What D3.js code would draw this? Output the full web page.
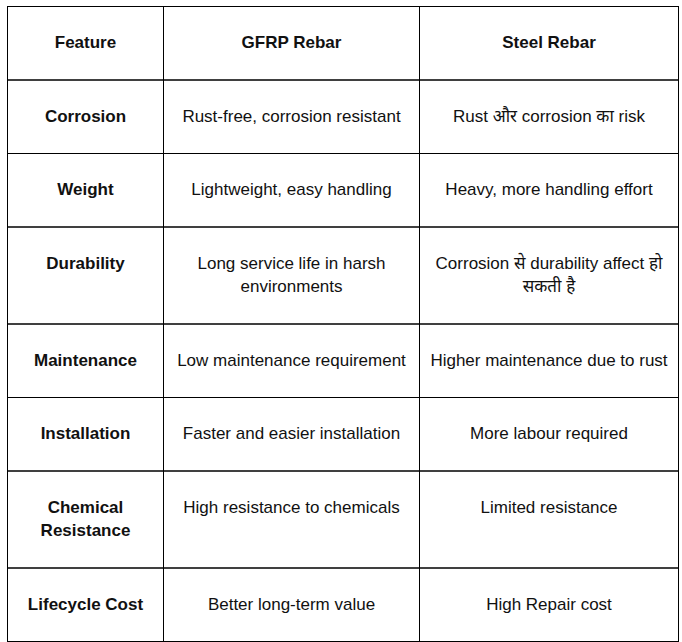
<!DOCTYPE html>
<html><head><meta charset="utf-8">
<script src="https://cdn.jsdelivr.net/npm/d3@7"></script>
<style>body{margin:0;background:#fff}</style></head>
<body><svg id="c" width="682" height="642"></svg>
<script>
const headers = ["Feature", "GFRP Rebar", "Steel Rebar"];
const features = [["Corrosion"],["Weight"],["Durability"],["Maintenance"],["Installation"],["Chemical","Resistance"],["Lifecycle Cost"]];
const gfrp = [["Rust-free, corrosion resistant"],["Lightweight, easy handling"],["Long service life in harsh","environments"],["Low maintenance requirement"],["Faster and easier installation"],["High resistance to chemicals"],["Better long-term value"]];
const steel = [["Rust और corrosion का risk"],["Heavy, more handling effort"],["Corrosion से durability affect हो","सकती है"],["Higher maintenance due to rust"],["More labour required"],["Limited resistance"],["High Repair cost"]];

const svg = d3.select("#c");
const colX = [7.5, 163.5, 419.5, 678.5];
const lh = 23;
const rows = [{cells:[[headers[0]],[headers[1]],[headers[2]]], head:true}]
  .concat(features.map((f,i)=>({cells:[f,gfrp[i],steel[i]], head:false})));
let y = 6.5;
rows.forEach(r=>{
  const n = d3.max(r.cells, c=>c.length);
  r.h = n>1 ? 97 : 73.5;
  r.y = y; y += r.h;
});
const font = "'Liberation Sans', Arial, 'Noto Sans', sans-serif";
rows.forEach(r=>{
  r.cells.forEach((lines,ci)=>{
    const x0 = colX[ci], x1 = colX[ci+1];
    svg.append("rect").attr("x",x0).attr("y",r.y).attr("width",x1-x0).attr("height",r.h)
      .attr("fill","none").attr("stroke","#000").attr("stroke-width",1);
    const bold = r.head || ci===0;
    const cy = r.y + 36;
    lines.forEach((t,li)=>{
      svg.append("text").attr("x",(x0+x1)/2).attr("y",cy+li*lh).attr("dy","0.35em")
        .attr("text-anchor","middle").attr("font-family",font).attr("font-size",17)
        .attr("font-weight",bold?"bold":"normal").attr("fill","#111").text(t);
    });
  });
});
</script></body></html>
